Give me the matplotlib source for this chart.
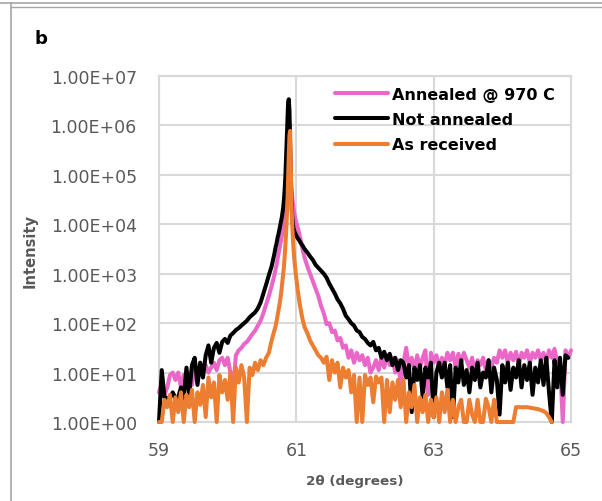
import numpy as np
import matplotlib
matplotlib.use("Agg")
import matplotlib.pyplot as plt
from matplotlib.lines import Line2D
from matplotlib.ticker import FixedLocator, FuncFormatter, NullLocator

# 2-theta sampling grid: coarse tails, fine steps around the (400) peak
theta_left = np.round(np.linspace(59.00, 60.68, 43), 2)
theta_mid = np.round(np.linspace(60.70, 61.11, 42), 2)
theta_right = np.round(np.linspace(61.12, 65.00, 98), 2)
two_theta = np.concatenate([theta_left, theta_mid, theta_right])

nan = np.nan

# log10(intensity)
annealed_log = [
    # 59.00 - 60.68
    0.6, 0.8, 0.55, 0.7, 0.95, 1.0, 0.85, 1.0, 0.7, 0.95,
    0.8, 1.0, 0.75, 1.05, 0.9, 1.1, 0.95, 1.15, 1.0, 1.1,
    1.2, 1.05, 1.25, 1.3, 1.15, 1.3, 1.0, 0.7, 1.35, 1.45,
    1.5, 1.58, 1.62, 1.7, 1.78, 1.85, 1.95, 2.05, 2.2, 2.38,
    2.55, 2.75, 2.97,
    # 60.70 - 61.11
    3.1, 3.17, 3.25, 3.32, 3.4, 3.47, 3.55, 3.62, 3.7, 3.78,
    3.85, 3.92, 4.0, 4.1, 4.25, 4.45, 4.8, 5.3, 5.9, 6.2,
    6.0, 5.4, 4.95, 4.7, 4.55, 4.42, 4.32, 4.22, 4.15, 4.08,
    4.03, 3.98, 3.93, 3.88, 3.82, 3.76, 3.7, 3.63, 3.56, 3.5,
    3.44, 3.38,
    # 61.12 - 65.00
    3.33, 3.15, 3.0, 2.85, 2.7, 2.55, 2.35, 2.2, 1.98, 2.0,
    1.82, 1.85, 1.65, 1.7, 1.5, 1.55, 1.3, 1.45, 1.2, 1.4,
    1.25, 1.35, 1.15, 1.3, 1.0, 1.1, 1.25, 1.05, 1.3, 1.1,
    1.35, 1.15, 1.3, 1.0, 1.25, 0.75, 1.2, 1.5, 1.1, 1.3,
    1.05, 1.35, 1.1, 1.3, 1.45, 0.55, 1.4, 1.2, 1.35, 1.1,
    1.3, 1.15, 1.4, 1.25, 1.4, 1.1, 1.38, 1.2, 1.4, 1.25,
    1.1, 1.3, 1.0, 1.25, 1.15, 1.3, 1.05, 1.25, 1.1, 1.3,
    1.2, 1.45, 1.3, 1.45, 1.2, 1.4, 1.25, 1.42, 1.15, 1.4,
    1.3, 1.45, 1.2, 1.4, 1.3, 1.45, 1.25, 1.4, 1.2, 1.45,
    1.3, 1.48, 1.2, 1.2, 0.0, 1.45, 1.3, 1.45,
]

not_annealed_log = [
    # 59.00 - 60.68
    0.0, 1.05, 0.5, 0.48, 0.48, 0.6, 0.48, 0.5, 0.7, 0.48,
    1.1, 0.55, 1.15, 1.3, 0.75, 1.2, 0.9, 1.35, 1.55, 1.2,
    1.5, 1.6, 1.4, 1.62, 1.68, 1.6, 1.75, 1.8, 1.86, 1.9,
    1.95, 2.0, 2.05, 2.12, 2.17, 2.22, 2.3, 2.42, 2.6, 2.78,
    2.97, 3.15, 3.4,
    # 60.70 - 61.11
    3.55, 3.6, 3.68, 3.75, 3.8, 3.87, 3.93, 4.0, 4.07, 4.15,
    4.25, 4.35, 4.5, 4.7, 4.95, 5.3, 5.7, 6.1, 6.45, 6.53,
    6.3, 5.6, 4.9, 4.45, 4.15, 4.0, 3.92, 3.87, 3.83, 3.8,
    3.77, 3.74, 3.72, 3.7, 3.68, 3.66, 3.63, 3.61, 3.59, 3.57,
    3.55, 3.52,
    # 61.12 - 65.00
    3.5, 3.43, 3.35, 3.28, 3.18, 3.12, 3.06, 3.0, 2.92, 2.8,
    2.7, 2.6, 2.48, 2.4, 2.29, 2.15, 2.08, 2.0, 1.95, 1.85,
    1.82, 1.72, 1.68, 1.6, 1.55, 1.62, 1.45, 1.5, 1.3, 1.42,
    1.25, 1.38, 1.15, 1.3, 1.05, 1.25, 1.2, 0.9, 1.15, 0.2,
    1.1, 0.85, 1.15, 0.5, 1.1, 0.9, 1.2, 0.1, 1.0, 1.2,
    0.9, 1.2, 0.7, 1.15, 0.1, 1.1, 0.8, 1.25, 0.75, 1.05,
    0.6, 1.1, 0.85, 1.2, 0.7, 1.0, 0.9, 1.25, 0.6, 1.1,
    0.85, 0.15, 1.15, 0.8, 1.2, 0.65, 1.1, 0.9, 1.25, 0.7,
    1.15, 0.85, 1.2, 0.55, 1.1, 0.8, 1.25, 0.75, 1.3, 0.6,
    0.0, 1.25, 0.7, 1.3, 0.55, 1.35, 1.3, nan,
]

as_received_log = [
    # 59.00 - 60.68
    0.0, 0.0, 0.45, 0.3, 0.55, 0.0, 0.5, 0.2, 0.6, 0.0,
    0.55, 0.3, 0.65, 0.0, 0.6, 0.35, 0.75, 0.1, 0.9, 0.5,
    0.8, 0.0, 0.95, 0.6, 0.85, 0.45, 1.0, 0.0, 1.1, 0.8,
    1.15, 0.9, 0.0, 1.1, 0.95, 1.2, 1.05, 1.25, 1.15, 1.3,
    1.4, 1.65, 1.85,
    # 60.70 - 61.11
    1.95, 2.02, 2.1, 2.18, 2.25, 2.33, 2.42, 2.52, 2.62, 2.75,
    2.88, 3.0, 3.15, 3.35, 3.55, 3.8, 4.1, 4.4, 4.9, 5.4,
    5.8, 5.89, 5.2, 4.4, 4.0, 3.7, 3.5, 3.3, 3.15, 3.02,
    2.9, 2.78, 2.67, 2.57, 2.47, 2.38, 2.3, 2.22, 2.15, 2.08,
    2.02, 1.97,
    # 61.12 - 65.00
    1.92, 1.8, 1.65, 1.55, 1.45, 1.35, 1.3, 1.2, 1.32, 0.85,
    1.25, 1.0, 1.2, 0.7, 1.1, 0.9, 1.05, 0.6, 0.95, 0.0,
    0.9, 0.0, 0.95, 0.75, 0.9, 0.4, 0.92, 0.8, 0.9, 0.0,
    0.85, 0.2, 0.8, 0.45, 0.85, 0.3, 0.85, 0.0, 0.6, 0.3,
    0.75, 0.0, 0.5, 0.2, 0.55, 0.0, 0.45, 0.1, 0.5, 0.0,
    0.6, 0.2, 0.65, 0.0, 0.45, 0.0, 0.3, 0.45, 0.0, 0.0,
    0.45, 0.15, 0.0, 0.45, 0.0, 0.0, 0.47, 0.3, 0.0, 0.45,
    0.0, 0.0, 0.0, 0.0, 0.0, 0.0, 0.0, 0.3, 0.3, 0.3,
    0.3, 0.3, 0.29, 0.28, 0.27, 0.26, 0.24, 0.22, 0.18, 0.1,
    0.0, nan, nan, nan, nan, nan, nan, nan,
]

series_names = ["Annealed @ 970 C", "Not annealed", "As received"]
series_colors = ["#EA67C8", "#000000", "#ED7D31"]
y_ticks = [1e0, 1e1, 1e2, 1e3, 1e4, 1e5, 1e6, 1e7]
x_ticks = [59, 61, 63, 65]

for s in (annealed_log, not_annealed_log, as_received_log):
    assert len(s) == len(two_theta), len(s)

fig = plt.figure(figsize=(6.02, 5.02), dpi=100)
ax = fig.add_axes([159 / 602, 1 - 423 / 502, 412 / 602, 346 / 502])

grid_col = "#D9D9D9"
text_col = "#595959"

for vals, name, col in zip([annealed_log, not_annealed_log, as_received_log],
                           series_names, series_colors):
    ax.plot(two_theta, 10 ** np.array(vals, dtype=float), color=col, lw=2.9,
            label=name, solid_joinstyle="round", solid_capstyle="round",
            clip_on=False, zorder=3)

ax.set_yscale("log")
ax.set_xlim(59, 65)
ax.set_ylim(1, 1e7)
ax.yaxis.set_major_locator(FixedLocator(y_ticks))
ax.yaxis.set_minor_locator(NullLocator())
ax.xaxis.set_major_locator(FixedLocator(x_ticks))
ax.yaxis.set_major_formatter(FuncFormatter(lambda v, p: f"{v:.2E}"))
ax.xaxis.set_major_formatter(FuncFormatter(lambda v, p: f"{v:g}"))

ax.grid(True, color=grid_col, lw=1.5, zorder=0)
ax.set_axisbelow(True)
for sp in ax.spines.values():
    sp.set_color(grid_col)
    sp.set_linewidth(1.5)
ax.tick_params(axis="both", length=0, labelsize=12.5, colors=text_col)
ax.tick_params(axis="y", pad=16)
ax.tick_params(axis="x", pad=14)

fig.text(355 / 602, 1 - 482 / 502, "2θ (degrees)", ha="center", va="center",
         fontsize=9.7, fontweight="bold", color=text_col)
fig.text(30 / 602, 1 - 251 / 502, "Intensity", ha="center", va="center",
         rotation=90, fontsize=10.5, fontweight="bold", color=text_col)
fig.text(35 / 602, 1 - 44 / 502, "b", ha="left", va="baseline",
         fontsize=13, fontweight="bold", color="black")

leg = ax.legend(loc="upper left", bbox_to_anchor=(335 / 602, 1 - 88 / 502),
                bbox_transform=fig.transFigure, frameon=False, borderpad=0,
                borderaxespad=0, handlelength=3.3, handletextpad=0.3,
                labelspacing=0.63, prop={"weight": "bold", "size": 11.5})

# panel border from the source document
frame_col = "#A6A6A6"
fig.add_artist(Line2D([0, 1], [1 - 3.5 / 502] * 2, color=frame_col, lw=1.2))
fig.add_artist(Line2D([11 / 602, 1], [1 - 7.5 / 502] * 2, color=frame_col, lw=1.0))
fig.add_artist(Line2D([11 / 602] * 2, [0, 1 - 3.5 / 502], color=frame_col, lw=1.2))

fig.savefig("out.png", dpi=100)
